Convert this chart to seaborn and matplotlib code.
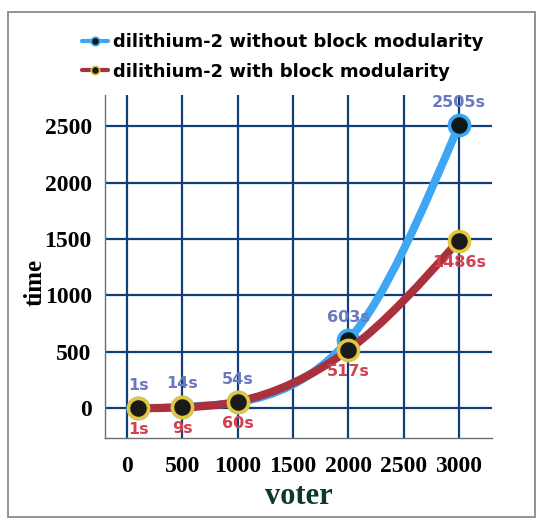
import numpy as np
import pandas as pd
import matplotlib
matplotlib.use("Agg")
import matplotlib.pyplot as plt
import seaborn as sns
from matplotlib.path import Path
from matplotlib.patches import PathPatch, Rectangle
from matplotlib.lines import Line2D

# ---- data ----
voters = [100, 500, 1000, 2000, 3000]
time_without = [1, 14, 54, 603, 2505]
time_with = [1, 9, 60, 517, 1486]
label_without = ["1s", "14s", "54s", "603s", "2505s"]
label_with = ["1s", "9s", "60s", "517s", "1486s"]
series_names = ["dilithium-2 without block modularity",
                "dilithium-2 with block modularity"]
xticks = [0, 500, 1000, 1500, 2000, 2500, 3000]
yticks = [0, 500, 1000, 1500, 2000, 2500]

BLUE = "#3ea6f2"
RED = "#a8313d"
GOLD = "#e2c63f"
GRID = "#0f3f78"
LBL_BLUE = "#6a78c0"
LBL_RED = "#d2414f"


def _sign(v):
    return -1.0 if v < 0 else 1.0


def monotone_path(xs, ys):
    """Monotone-x cubic path (as d3.curveMonotoneX) through the data points."""
    n = len(xs)
    h = [xs[i + 1] - xs[i] for i in range(n - 1)]
    s = [(ys[i + 1] - ys[i]) / h[i] for i in range(n - 1)]
    t = [0.0] * n
    for i in range(1, n - 1):
        h0, h1 = h[i - 1], h[i]
        s0, s1 = s[i - 1], s[i]
        p = (s0 * h1 + s1 * h0) / (h0 + h1)
        t[i] = (_sign(s0) + _sign(s1)) * min(abs(s0), abs(s1), 0.5 * abs(p)) or 0.0
    t[0] = (3 * s[0] - t[1]) / 2
    t[-1] = (3 * s[-1] - t[-2]) / 2
    verts = [(xs[0], ys[0])]
    codes = [Path.MOVETO]
    for i in range(n - 1):
        dx = h[i] / 3
        verts += [(xs[i] + dx, ys[i] + dx * t[i]),
                  (xs[i + 1] - dx, ys[i + 1] - dx * t[i + 1]),
                  (xs[i + 1], ys[i + 1])]
        codes += [Path.CURVE4] * 3
    return Path(verts, codes)


sns.set_theme(style="white")
plt.rcParams["font.family"] = ["DejaVu Sans"]

df = pd.DataFrame({
    "voter": voters * 2,
    "time": time_without + time_with,
    "series": [series_names[0]] * len(voters) + [series_names[1]] * len(voters),
})

fig = plt.figure(figsize=(5.5, 5.27), dpi=100)
ax = fig.add_axes([105 / 550, 1 - 438 / 527, 387 / 550, 343 / 527])

ax.set_xlim(-200, 3300)
ax.set_ylim(-262, 2775)
ax.set_xticks(xticks)
ax.set_yticks(yticks)
ax.grid(True, color=GRID, linewidth=1.6)
ax.set_axisbelow(True)

for sp in ["top", "right"]:
    ax.spines[sp].set_visible(False)
for sp in ["left", "bottom"]:
    ax.spines[sp].set_color("#6f6f6f")
    ax.spines[sp].set_linewidth(1.0)

serif = ["Liberation Serif", "DejaVu Serif"]
ax.tick_params(axis="x", length=6.5, width=1.0, color="#6f6f6f", pad=6.5)
ax.tick_params(axis="y", length=6, width=1.6, color=GRID, pad=3.5)
for lab in ax.get_xticklabels() + ax.get_yticklabels():
    lab.set_fontfamily(serif)
    lab.set_fontweight("bold")
    lab.set_fontsize(17)
    lab.set_color("#000000")

# lines and markers
ax.add_patch(PathPatch(monotone_path(voters, time_without), facecolor="none",
                       edgecolor=BLUE, linewidth=5.8, capstyle="round",
                       joinstyle="round", zorder=3))
sns.scatterplot(data=df[df["series"] == series_names[0]], x="voter", y="time",
                ax=ax, s=14.5 ** 2, color="#0b1a16", edgecolor=BLUE,
                linewidth=2.6, zorder=4, legend=False)
ax.add_patch(PathPatch(monotone_path(voters, time_with), facecolor="none",
                       edgecolor=RED, linewidth=5.8, capstyle="round",
                       joinstyle="round", zorder=5))
sns.scatterplot(data=df[df["series"] == series_names[1]], x="voter", y="time",
                ax=ax, s=14.5 ** 2, color="#1a1a1a", edgecolor=GOLD,
                linewidth=2.6, zorder=6, legend=False)

# data labels
for x, y, tx in zip(voters, time_without, label_without):
    ax.annotate(tx, (x, y), xytext=(0, 16.5), textcoords="offset points",
                ha="center", va="center", fontsize=11.5, fontweight="bold",
                color=LBL_BLUE, zorder=7)
for x, y, tx in zip(voters, time_with, label_with):
    ax.annotate(tx, (x, y), xytext=(0, -15.5), textcoords="offset points",
                ha="center", va="center", fontsize=11.5, fontweight="bold",
                color=LBL_RED, zorder=7)

ax.set_xlabel("voter", fontfamily=serif, fontweight="bold", fontsize=22,
              color="#0c3a2a")
ax.xaxis.set_label_coords(0.5, -(497 - 438) / 343)
ax.xaxis.label.set_va("center")
ax.set_ylabel("time", fontfamily=serif, fontweight="bold", fontsize=18,
              color="#000000")
ax.yaxis.set_label_coords((35 - 105) / 387, (438 - 282) / 343)
ax.yaxis.label.set_va("center")

# legend
handles = [
    Line2D([0], [0], color=BLUE, lw=3, marker="o", markersize=6,
           markerfacecolor="#0b1a16", markeredgecolor=BLUE, markeredgewidth=1.2),
    Line2D([0], [0], color=RED, lw=3, marker="o", markersize=6,
           markerfacecolor="#1a1a1a", markeredgecolor=GOLD, markeredgewidth=1.2),
]
leg = fig.legend(handles, series_names, loc="center", ncol=1,
                 bbox_to_anchor=(283 / 550, 1 - 57 / 527), frameon=False,
                 prop={"weight": "bold", "size": 13}, handlelength=1.4,
                 handletextpad=0.3, labelspacing=0.62, borderpad=0)
for txt in leg.get_texts():
    txt.set_color("#000000")

# outer frame
fig.patches.append(Rectangle((8 / 550, 1 - 517 / 527), (535 - 8) / 550,
                             (517 - 12) / 527, transform=fig.transFigure,
                             fill=False, edgecolor="#8a8a8a", linewidth=1.3))

fig.savefig("out.png", dpi=100)
